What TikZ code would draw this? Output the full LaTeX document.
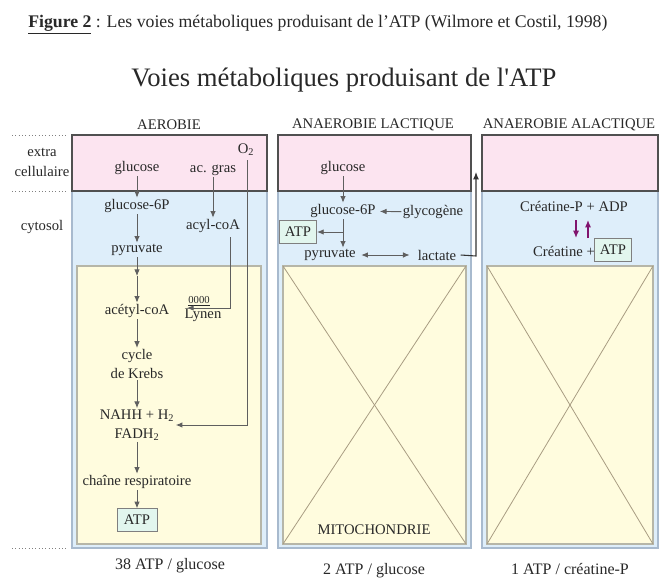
\documentclass[tikz,border=0pt]{standalone}
\usepackage{fontspec}
\setmainfont{Liberation Serif}
\usetikzlibrary{arrows.meta}
\definecolor{pinkc}{RGB}{252,228,240}
\definecolor{bluec}{RGB}{222,238,250}
\definecolor{yellowc}{RGB}{255,252,222}
\definecolor{atpc}{RGB}{226,246,238}
\definecolor{bluebord}{RGB}{168,186,206}
\definecolor{yelbord}{RGB}{182,182,168}
\definecolor{pinkbord}{RGB}{80,80,80}
\definecolor{xline}{RGB}{168,156,130}
\definecolor{arrc}{RGB}{95,95,95}
\definecolor{purp}{RGB}{128,20,110}
\definecolor{txtc}{RGB}{40,40,40}
\tikzset{
  txt/.style={font=\fontsize{11}{14}\selectfont, inner sep=1pt, text=txtc, align=center},
  hdr/.style={font=\fontsize{11}{13}\selectfont, inner sep=1pt, text=txtc},
  atpbox/.style={txt, draw=arrc!80, fill=atpc, line width=0.6pt, minimum width=28pt, minimum height=17pt, inner sep=2pt},
  arr/.style={draw=arrc, line width=0.7pt, -{Latex[length=5pt,width=4.2pt]}},
  dblarr/.style={draw=arrc, line width=0.7pt, {Latex[length=5pt,width=4.2pt]}-{Latex[length=5pt,width=4.2pt]}},
  parr/.style={draw=purp, line width=1pt, -{Latex[length=5.5pt,width=4.6pt]}},
  blkarr/.style={draw=black!80, line width=0.8pt, -{Latex[length=5.5pt,width=4.4pt]}},
  bluepanel/.style={fill=bluec, draw=bluebord, line width=0.8pt},
  pinkpanel/.style={fill=pinkc, draw=pinkbord, line width=0.8pt},
  yelpanel/.style={fill=yellowc, draw=yelbord, line width=0.8pt},
  xdiag/.style={draw=xline, line width=0.6pt},
  dotline/.style={draw=gray, line width=0.5pt, dotted},
}
\begin{document}
\begin{tikzpicture}[x=0.75pt,y=-0.75pt]
\useasboundingbox[fill=white] (0,0) rectangle (661,578);

% caption and title
\node[anchor=base west, inner sep=0pt, text=txtc, font=\fontsize{13.3}{15}\selectfont] (cap) at (28,27)
  {\textbf{\underline{Figure 2}} : Les voies métaboliques produisant de l’ATP (Wilmore et Costil, 1998)};
\node[anchor=base, inner sep=0pt, text=txtc, font=\fontsize{20}{24}\selectfont] (title) at (344,86)
  {Voies métaboliques produisant de l\textquotesingle ATP};

% left labels and dotted lines
\draw[dotline] (12,135) -- (66,135);
\draw[dotline] (12,191) -- (66,191);
\draw[dotline] (12,548) -- (66,548);
\node[txt] (extra) at (42,152) {extra};
\node[txt] (cell) at (42,171) {cellulaire};
\node[txt] (cyto) at (42,227) {cytosol};

% headers
\node[hdr] (h1) at (169,125) {AEROBIE};
\node[hdr] (h2) at (373,125) {ANAEROBIE LACTIQUE};
\node[hdr] (h3) at (569,125) {ANAEROBIE ALACTIQUE};

% panels
\draw[bluepanel] (72,191) rectangle (267,548);
\draw[pinkpanel] (72,135) rectangle (267,191);
\draw[yelpanel] (77,266) rectangle (261,544);

\draw[bluepanel] (278,191) rectangle (471,548);
\draw[pinkpanel] (278,135) rectangle (471,191);
\draw[yelpanel] (283,266) rectangle (466,544);
\draw[xdiag] (283,266) -- (466,544);
\draw[xdiag] (466,266) -- (283,544);

\draw[bluepanel] (482,191) rectangle (658,548);
\draw[pinkpanel] (482,135) rectangle (658,191);
\draw[yelpanel] (487,266) rectangle (653,544);
\draw[xdiag] (487,266) -- (653,544);
\draw[xdiag] (653,266) -- (487,544);

% ===== panel 1 =====
\node[txt] (g1) at (137,168) {glucose};
\node[txt] (ag) at (213,170) {ac. gras};
\node[txt] (o2) at (246,150) {O\textsubscript{2}};
\node[txt] (g6p1) at (137,206) {glucose-6P};
\node[txt] (acyl) at (213,226) {acyl-coA};
\node[txt] (pyr1) at (137,250) {pyruvate};
\node[txt] (acet) at (137,311) {acétyl-coA};
\node[txt, font=\fontsize{8}{9}\selectfont] (zeros) at (199,301) {\underline{0000}};
\node[txt] (lynen) at (203,315) {Lynen};
\node[txt] (krebs) at (137,364) {cycle\\de Krebs};
\node[txt] (nadh) at (137,425) {NAHH + H\textsubscript{2}\\FADH\textsubscript{2}};
\node[txt] (chain) at (137,482) {chaîne respiratoire};
\node[atpbox, minimum width=30pt] (atp1) at (137,520) {ATP};

\coordinate (mid1) at (137,276);
\coordinate (acylout) at (230,237);
\coordinate (lyntip) at (187,308);
\coordinate (o2out) at (247,160);

\draw[arr] (g1) -- (g6p1);
\draw[arr] (ag) -- (acyl);
\draw[arr] (g6p1) -- (pyr1);
\draw[arr] (pyr1) -- (mid1);
\draw[arr] (mid1) -- (acet);
\draw[arr] (acet) -- (krebs);
\draw[arr] (krebs) -- (nadh);
\draw[arr] (nadh) -- (chain);
\draw[arr] (chain) -- (atp1);
\draw[arr] (acylout) |- (lyntip);
\draw[arr] (o2out) |- (nadh.east);

% ===== panel 2 =====
\node[txt] (g2) at (343,168) {glucose};
\node[txt] (g6p2) at (343,211) {glucose-6P};
\node[txt] (glyc) at (433,212) {glycogène};
\node[atpbox] (atp2) at (298,232) {ATP};
\node[txt] (pyr2) at (330,255) {pyruvate};
\node[txt] (lact) at (437,255) {lactate};
\coordinate (up) at (476,172);
\coordinate (lactcorner) at (476,256);

\draw[arr] (g2) -- (g6p2);
\draw[arr, shorten >=2pt] (glyc) -- (g6p2);
\draw[arr] (g6p2.south) -- (g6p2.south |- pyr2.north);
\draw[arr] (g6p2 |- atp2) -- (atp2.east);
\draw[dblarr, shorten <=3pt, shorten >=5pt] (pyr2) -- (lact);
\draw[blkarr] (lact.east) ++(3,0) -- (lactcorner) -- (up);

% ===== panel 3 =====
\node[txt] (crp) at (574,206) {Créatine-P + ADP};
\node[txt] (cr) at (564,251) {Créatine +};
\node[atpbox] (atp3) at (613,250) {ATP};
\coordinate (pd1) at (576,220);
\coordinate (pd2) at (576,238);
\coordinate (pu1) at (588,238);
\coordinate (pu2) at (588,220);
\draw[parr] (pd1) -- (pd2);
\draw[parr] (pu1) -- (pu2);

% ===== bottom labels =====
\node[txt] (mito) at (374,530) {MITOCHONDRIE};
\node[txt, font=\fontsize{12}{14}\selectfont] (r1) at (170,566) {38 ATP / glucose};
\node[txt, font=\fontsize{12}{14}\selectfont, anchor=base] (r2) at (374,574) {2 ATP / glucose};
\node[txt, font=\fontsize{12}{14}\selectfont, anchor=base] (r3) at (570,574) {1 ATP / créatine-P};
\end{tikzpicture}
\end{document}
